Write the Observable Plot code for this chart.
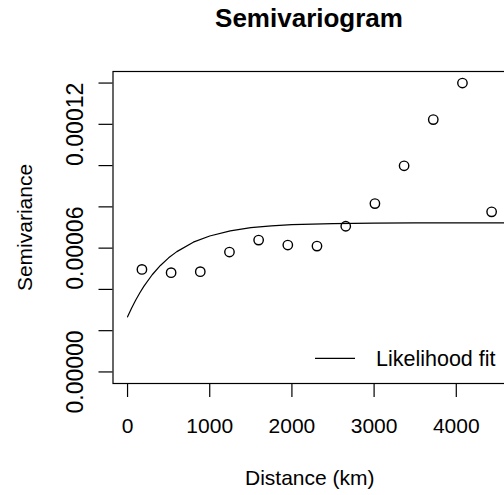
<!DOCTYPE html>
<html><head><meta charset="utf-8">
<script src="https://cdn.jsdelivr.net/npm/d3@7"></script>
<script src="https://cdn.jsdelivr.net/npm/@observablehq/plot@0.6"></script>
<style>
html,body{margin:0;padding:0;background:#fff;overflow:hidden;width:504px;height:495px}
#wrap{position:relative;width:504px;height:495px;overflow:hidden;font-family:"Liberation Sans",Arial,sans-serif}
#title{position:absolute;top:5px;left:0;width:618px;text-align:center;font-weight:bold;font-size:26px;line-height:26px;color:#000;white-space:nowrap}
#chart{position:absolute;top:0;left:0;width:510px;height:495px}
#chart svg{max-width:none !important;width:510px !important;height:495px !important}
</style>
</head><body>
<div id="wrap"><div id="chart"></div><div id="title">Semivariogram</div></div>
<script>
// Empirical semivariogram (binned distances, km)
const binDist = [175, 530, 885, 1240, 1595, 1950, 2305, 2655, 3010, 3365, 3720, 4075, 4430];
const binSemivar = [4.97e-5, 4.81e-5, 4.86e-5, 5.81e-5, 6.39e-5, 6.15e-5, 6.10e-5, 7.06e-5, 8.16e-5, 9.99e-5, 1.223e-4, 1.40e-4, 7.76e-5];
// Likelihood-fitted model curve
const fitDist = [0, 50, 100, 150, 200, 300, 400, 500, 600, 800, 1000, 1250, 1500, 1750, 2000, 2500, 3000, 3500, 4000, 4600];
const fitSemivar = [2.67e-5, 3.10e-5, 3.49e-5, 3.84e-5, 4.16e-5, 4.71e-5, 5.16e-5, 5.53e-5, 5.83e-5, 6.29e-5, 6.59e-5, 6.84e-5, 6.99e-5, 7.08e-5, 7.14e-5, 7.19e-5, 7.21e-5, 7.22e-5, 7.22e-5, 7.22e-5];
const xTicks = [0, 1000, 2000, 3000, 4000];
const yTicks = [0, 2e-5, 4e-5, 6e-5, 8e-5, 1e-4, 1.2e-4, 1.4e-4];
const yTickLabels = [0, 6e-5, 1.2e-4];
const legendLabels = ["Likelihood fit"];
const xTitle = "Distance (km)";
const yTitle = "Semivariance";

const points = binDist.map((d, i) => ({dist: d, gamma: binSemivar[i]}));
const fit = fitDist.map((d, i) => ({dist: d, gamma: fitSemivar[i]}));

const chart = Plot.plot({
  width: 510,
  height: 495,
  marginLeft: 112.5,
  marginRight: 4,
  marginTop: 71,
  marginBottom: 112,
  x: {domain: [-177, 4611]},
  y: {domain: [-5.6e-6, 1.456e-4]},
  style: {fontFamily: '"Liberation Sans", Arial, sans-serif', background: "white", color: "black", overflow: "visible", maxWidth: "none"},
  marks: [
    Plot.line(fit, {x: "dist", y: "gamma", stroke: "black", strokeWidth: 1.2, clip: true}),
    Plot.dot(points, {x: "dist", y: "gamma", r: 4.7, stroke: "black", strokeWidth: 1.4, fill: "none"}),
    Plot.frame({stroke: "black", strokeWidth: 1.2}),
    Plot.axisX(xTicks, {tickSize: 14, tickPadding: 21, fontSize: 21, label: null, tickFormat: d => String(d), strokeWidth: 1.2}),
    Plot.axisY(yTicks, {tickSize: 14, label: null, tickFormat: () => "", strokeWidth: 1.2}),
    Plot.text(yTickLabels, {y: d => d, text: d => d.toFixed(5), frameAnchor: "left", dx: -37, rotate: -90, fontSize: 23, textAnchor: "middle", lineAnchor: "middle", fill: "black"}),
    Plot.text([yTitle], {frameAnchor: "left", dx: -87.5, rotate: -90, fontSize: 21, textAnchor: "middle", lineAnchor: "middle", fill: "black"}),
    Plot.text([xTitle], {frameAnchor: "bottom", dy: 94.5, fontSize: 21, textAnchor: "middle", lineAnchor: "middle", fill: "black"}),
    Plot.text(legendLabels, {frameAnchor: "bottom-right", dx: -11, dy: -24.7, fontSize: 21.5, textAnchor: "end", lineAnchor: "middle", fill: "black"})
  ]
});
chart.style.maxWidth = "none";
document.getElementById("chart").appendChild(chart);

// legend key line, positioned relative to the frame's bottom-right corner
const xr = chart.scale("x").range, yr = chart.scale("y").range;
const right = Math.max(...xr), bottom = Math.max(...yr);
d3.select(chart).append("line")
  .attr("x1", right - 191).attr("x2", right - 151)
  .attr("y1", bottom - 24.7).attr("y2", bottom - 24.7)
  .attr("stroke", "black").attr("stroke-width", 1.2);
</script>
</body></html>
